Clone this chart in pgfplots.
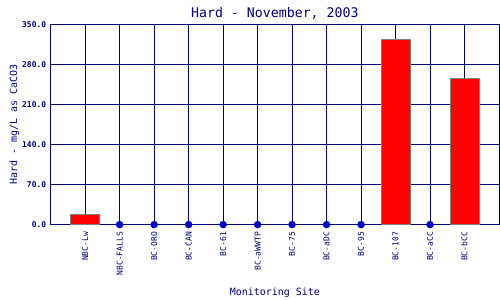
\documentclass[border=0pt]{standalone}
\usepackage{pgfplots}
\pgfplotsset{compat=1.18}
\usepackage{fontspec}
\setmainfont{DejaVu Sans Mono}
\setmonofont{DejaVu Sans Mono}
\definecolor{navy}{RGB}{0,0,128}
\definecolor{dotblue}{RGB}{0,0,200}
\begin{document}
\begin{tikzpicture}
\useasboundingbox (-50.7bp,-75.4bp) rectangle (449.3bp,224.6bp);
\begin{axis}[
  at={(0,0)}, anchor=south west,
  scale only axis, width=448.3bp, height=199.9bp,
  xmin=-1, xmax=12, ymin=0, ymax=350,
  xtick={0,...,11},
  xticklabels={NBC-Lw,NBC-FALLS,BC-ORO,BC-CAN,BC-61,BC-aWWTP,BC-75,BC-aDC,BC-95,BC-107,BC-aCC,BC-bCC},
  ytick={0,70,140,210,280,350},
  grid=major,
  major grid style={navy, line width=0.9pt},
  axis line style={navy, line width=0.9pt},
  major tick length=0pt,
  clip=false,
  xticklabel shift=4bp,
  /pgf/number format/assume math mode=true,
  yticklabel style={/pgf/number format/fixed, /pgf/number format/fixed zerofill, /pgf/number format/precision=1, font=\fontsize{8}{9}\selectfont\bfseries, text=navy, xshift=-1bp},
  xticklabel style={rotate=90, anchor=east, font=\fontsize{8}{9}\selectfont, text=navy},
  title={Hard - November, 2003},
  title style={font=\fontsize{13.3}{15}\selectfont, text=navy, yshift=-4bp},
  xlabel={Monitoring Site},
  ylabel={Hard - mg/L as CaCO3},
  label style={font=\fontsize{10}{12}\selectfont, text=navy},
  xlabel style={at={(axis description cs:0.5,0)}, anchor=center, yshift=-68bp},
  ylabel style={yshift=-4bp},
]
\addplot[ybar, bar width=29bp, fill=red, draw=gray, line width=1pt] coordinates {(0,18) (9,324.5) (11,255)};
\addplot[only marks, mark=*, mark size=3.5bp, dotblue] coordinates {(1,0) (2,0) (3,0) (4,0) (5,0) (6,0) (7,0) (8,0) (10,0)};
\end{axis}
\end{tikzpicture}
\end{document}
